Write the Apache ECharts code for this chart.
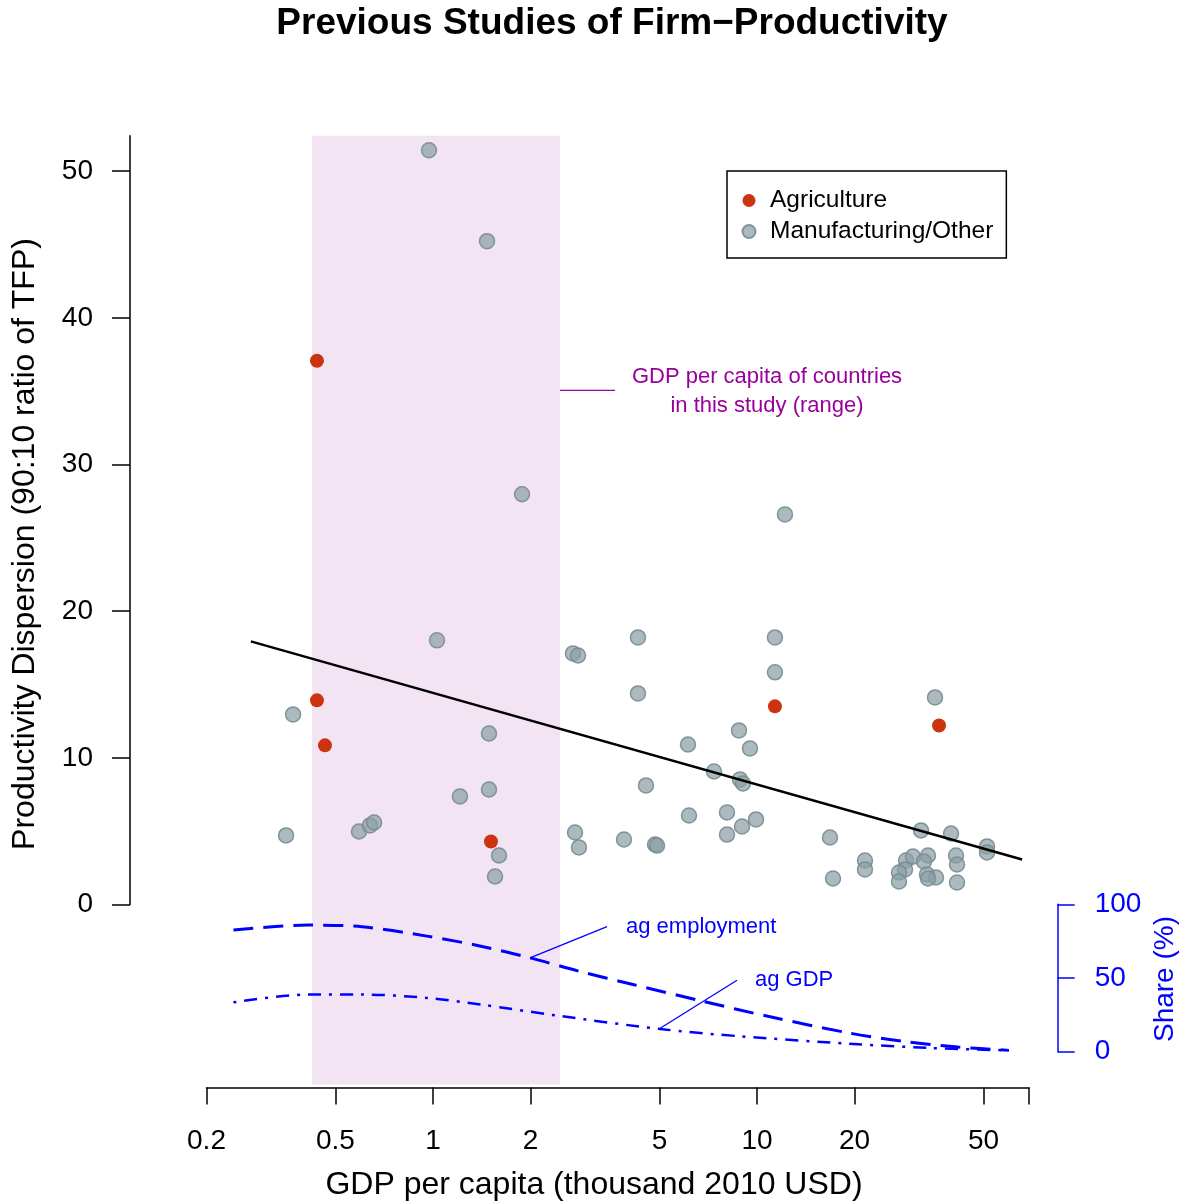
<!DOCTYPE html>
<html>
<head>
<meta charset="utf-8">
<script src="https://cdn.jsdelivr.net/npm/echarts@6/dist/echarts.min.js"></script>
<style>
  html, body { margin: 0; padding: 0; background: #fff; }
  #chart { width: 1188px; height: 1203px; }
</style>
</head>
<body>
<div id="chart"></div>
<script>
// GDP per capita (thousand 2010 USD) and 90:10 TFP ratio
const mfgGdp = [0.972, 1.468, 1.883, 12.2, 1.029, 2.704, 2.803, 4.292, 11.36, 11.36,
  4.292, 0.370, 1.489, 8.798, 6.124, 9.515, 7.367, 8.861, 9.052, 4.543,
  1.489, 1.211, 6.168, 8.08, 9.93, 8.99, 8.08, 0.352, 0.591, 0.639,
  0.658, 2.744, 2.822, 3.886, 4.845, 4.914, 1.599, 1.554, 16.8, 17.16,
  21.54, 21.54, 32.08, 39.71, 51.28, 51.28, 35.43, 28.84, 30.30, 33.71,
  32.76, 28.63, 27.43, 27.43, 33.47, 35.68, 33.71, 41.14, 41.43, 41.43];
const mfgRatio = [51.43, 45.23, 27.97, 26.6, 18.01, 17.12, 16.98, 18.21, 18.21, 15.83,
  14.39, 12.96, 11.66, 11.87, 10.91, 10.64, 9.07, 8.53, 8.25, 8.12,
  7.84, 7.37, 6.07, 6.28, 5.80, 5.32, 4.77, 4.71, 4.98, 5.39,
  5.59, 4.91, 3.89, 4.43, 4.09, 4.02, 3.34, 1.91, 4.57, 1.77,
  3.00, 2.39, 5.05, 4.84, 3.96, 3.55, 14.12, 3.00, 3.27, 3.34,
  2.93, 2.39, 2.18, 1.57, 2.05, 1.84, 1.77, 3.34, 2.73, 1.50];

const agGdp = [0.4385, 0.4385, 0.4642, 1.51, 11.36, 36.46];
const agRatio = [37.08, 13.92, 10.85, 4.30, 13.51, 12.21];

// fitted line end points
const fitGdp = [0.274, 65.8];
const fitRatio = [17.94, 3.07];

// agricultural shares (%) by GDP per capita
const shareGdp = [0.2422, 0.4113, 0.6038, 0.958, 1.406, 1.993, 2.822, 4.143, 6.813, 10.81, 19.23, 28.22, 41.73, 59.96];
const agEmployment = [82.5, 85.9, 84.8, 78.4, 71.6, 63.7, 54.6, 45.6, 34.2, 24.0, 12.7, 7.0, 3.2, 0.9];
const gdpShareGdp = [0.2422, 0.4113, 0.6038, 0.958, 1.406, 2.414, 5.02, 8.925, 19.23, 34.2, 59.96];
const agGdpShare = [33.5, 38.8, 38.8, 36.5, 32.0, 24.5, 15.4, 10.4, 5.4, 2.5, 0.9];

// range of GDP per capita of the study countries
const studyRange = [0.423, 2.466];
const rangePointerGdp = [2.466, 3.645];
const rangePointerY = [35.06, 35.06];
const empPointerGdp = [1.993, 3.444];
const empPointerShare = [63.7, 84.8];
const gdpPointerGdp = [4.984, 8.676];
const gdpPointerShare = [15.4, 48.5];

const xTickValues = [0.2, 0.5, 1, 2, 5, 10, 20, 50];
const xTickLabels = ["0.2", "0.5", "1", "2", "5", "10", "20", "50"];
const xMin = 0.2;
const xMax = 69.1;
const yTicks = [0, 10, 20, 30, 40, 50];
const shareTicks = [0, 50, 100];

const FONT = "'Liberation Sans', Arial, Helvetica, sans-serif";
const BLUE = "#0000ff";
const PURPLE = "#990099";

const lg = v => Math.log10(v);
const pairs = (xs, ys) => xs.map((x, i) => [lg(x), ys[i]]);

const chart = echarts.init(document.getElementById("chart"));

const L = 206.5, W = 822.5;
const xBase = {
  type: "value",
  min: lg(xMin),
  max: lg(xMax),
  splitLine: { show: false },
};

chart.setOption({
  animation: false,
  backgroundColor: "#fff",
  textStyle: { fontFamily: FONT },
  grid: [
    { left: L, width: W, top: 135.7, height: 768.8, outerBoundsMode: "none" },
    { left: L, width: W, top: 904.3, height: 147.4, outerBoundsMode: "none" },
    { left: L, width: W, top: 135.7, height: 948.8, outerBoundsMode: "none" },
  ],
  xAxis: [
    Object.assign({}, xBase, { gridIndex: 0, show: false }),
    Object.assign({}, xBase, { gridIndex: 1, show: false }),
    Object.assign({}, xBase, {
      gridIndex: 2,
      position: "bottom",
      offset: 3,
      axisLine: { show: true, onZero: false, lineStyle: { color: "#000", width: 1.5 } },
      axisTick: {
        show: true, length: 17,
        lineStyle: { color: "#000", width: 1.5 },
        customValues: xTickValues.concat([xMax]).map(lg),
      },
      axisLabel: {
        color: "#000", fontSize: 28, fontFamily: FONT, margin: 40,
        customValues: xTickValues.map(lg),
        formatter: v => {
          const i = xTickValues.findIndex(t => Math.abs(lg(t) - v) < 1e-6);
          return i >= 0 ? xTickLabels[i] : "";
        },
      },
    }),
  ],
  yAxis: [
    {
      gridIndex: 0, type: "value", min: 0, max: 52.42, position: "left", offset: 76.5,
      splitLine: { show: false },
      axisLine: { show: true, onZero: false, lineStyle: { color: "#000", width: 1.5 } },
      axisTick: { show: true, length: 18, lineStyle: { color: "#000", width: 1.5 }, customValues: yTicks },
      axisLabel: { color: "#000", fontSize: 28, fontFamily: FONT, margin: 37, padding: [5, 0, 0, 0], customValues: yTicks },
    },
    {
      gridIndex: 1, type: "value", min: 0, max: 100, position: "right", offset: 28.7,
      splitLine: { show: false },
      axisLine: { show: true, onZero: false, lineStyle: { color: BLUE, width: 1.5 } },
      axisTick: { show: true, length: 17, lineStyle: { color: BLUE, width: 1.5 }, customValues: shareTicks },
      axisLabel: { color: BLUE, fontSize: 28, fontFamily: FONT, margin: 37, padding: [5, 0, 0, 0], customValues: shareTicks },
    },
    { gridIndex: 2, type: "value", min: 0, max: 1, show: false },
  ],
  legend: {
    left: 727, top: 171, orient: "vertical",
    data: ["Agriculture", "Manufacturing/Other"],
    icon: "circle",
    itemWidth: 32, itemHeight: 13, itemGap: 6,
    padding: [17, 13, 14, 14.5],
    borderColor: "#000", borderWidth: 1.5, borderRadius: 0,
    textStyle: { color: "#000", fontSize: 24.5, fontFamily: FONT },
    selectedMode: false,
  },
  graphic: [
    { type: "text", x: 612, y: 24, silent: true,
      style: { text: "Previous Studies of Firm\u2212Productivity", fill: "#000",
        fontSize: 37, fontWeight: "bold", fontFamily: FONT, align: "center", verticalAlign: "middle" } },
    { type: "text", x: 25, y: 544, rotation: Math.PI / 2, silent: true,
      style: { text: "Productivity Dispersion (90:10 ratio of TFP)", fill: "#000",
        fontSize: 32, fontFamily: FONT, align: "center", verticalAlign: "middle" } },
    { type: "text", x: 594, y: 1185, silent: true,
      style: { text: "GDP per capita (thousand 2010 USD)", fill: "#000",
        fontSize: 32, fontFamily: FONT, align: "center", verticalAlign: "middle" } },
    { type: "text", x: 1165, y: 979, rotation: Math.PI / 2, silent: true,
      style: { text: "Share (%)", fill: BLUE,
        fontSize: 28, fontFamily: FONT, align: "center", verticalAlign: "middle" } },
    { type: "text", x: 767, y: 391, silent: true,
      style: { text: "GDP per capita of countries\nin this study (range)", fill: PURPLE,
        fontSize: 22, lineHeight: 29, fontFamily: FONT, align: "center", verticalAlign: "middle" } },
    { type: "text", x: 626, y: 927, silent: true,
      style: { text: "ag employment", fill: BLUE, fontSize: 22, fontFamily: FONT, align: "left", verticalAlign: "middle" } },
    { type: "text", x: 755, y: 980, silent: true,
      style: { text: "ag GDP", fill: BLUE, fontSize: 22, fontFamily: FONT, align: "left", verticalAlign: "middle" } },
  ],
  series: [
    {
      name: "range", type: "line", xAxisIndex: 2, yAxisIndex: 2, data: [], z: 0, silent: true,
      markArea: {
        silent: true,
        itemStyle: { color: "#f2e4f3", opacity: 1 },
        data: [[{ xAxis: lg(studyRange[0]), yAxis: 0 }, { xAxis: lg(studyRange[1]), yAxis: 1 }]],
      },
    },
    {
      name: "Manufacturing/Other", type: "scatter", xAxisIndex: 0, yAxisIndex: 0, z: 3,
      symbolSize: 15,
      itemStyle: { color: "rgba(140,160,166,0.72)", borderColor: "rgba(118,140,146,0.9)", borderWidth: 1.5, opacity: 1 },
      data: pairs(mfgGdp, mfgRatio),
    },
    {
      name: "Agriculture", type: "scatter", xAxisIndex: 0, yAxisIndex: 0, z: 4,
      symbolSize: 14,
      itemStyle: { color: "#cc3311", opacity: 1 },
      data: pairs(agGdp, agRatio),
    },
    {
      name: "fit", type: "line", xAxisIndex: 0, yAxisIndex: 0, z: 5, showSymbol: false, silent: true,
      lineStyle: { color: "#000", width: 2.5 },
      data: pairs(fitGdp, fitRatio),
    },
    {
      name: "rangePointer", type: "line", xAxisIndex: 0, yAxisIndex: 0, z: 5, showSymbol: false, silent: true,
      lineStyle: { color: PURPLE, width: 1.3 },
      data: pairs(rangePointerGdp, rangePointerY),
    },
    {
      name: "ag employment", type: "line", xAxisIndex: 1, yAxisIndex: 1, z: 5, showSymbol: false, silent: true,
      smooth: 0.3,
      lineStyle: { color: BLUE, width: 3, type: [20, 10] },
      data: pairs(shareGdp, agEmployment),
    },
    {
      name: "ag GDP", type: "line", xAxisIndex: 1, yAxisIndex: 1, z: 5, showSymbol: false, silent: true,
      smooth: 0.3,
      lineStyle: { color: BLUE, width: 2.5, type: [3, 8, 13, 8] },
      data: pairs(gdpShareGdp, agGdpShare),
    },
    {
      name: "empPointer", type: "line", xAxisIndex: 1, yAxisIndex: 1, z: 5, showSymbol: false, silent: true,
      lineStyle: { color: BLUE, width: 1.3 },
      data: pairs(empPointerGdp, empPointerShare),
    },
    {
      name: "gdpPointer", type: "line", xAxisIndex: 1, yAxisIndex: 1, z: 5, showSymbol: false, silent: true,
      lineStyle: { color: BLUE, width: 1.3 },
      data: pairs(gdpPointerGdp, gdpPointerShare),
    },
  ],
});
</script>
</body>
</html>
